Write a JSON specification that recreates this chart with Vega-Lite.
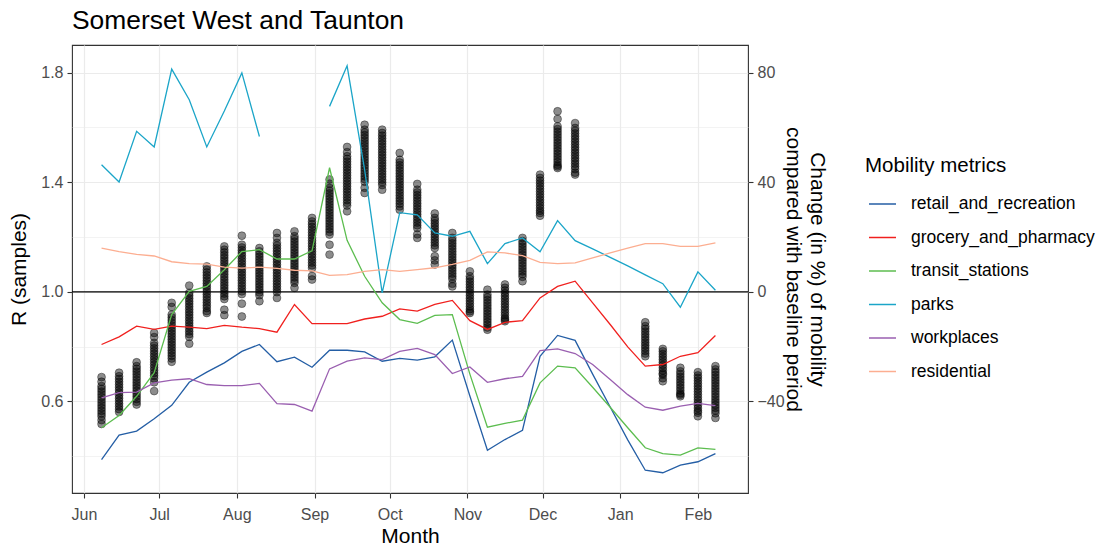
{
  "$schema": "https://vega.github.io/schema/vega-lite/v6.json",
  "width": 676,
  "height": 448,
  "autosize": {"type": "none"},
  "padding": {"left": 72, "top": 45, "right": 355, "bottom": 58},
  "background": "white",
  "title": {"text": "Somerset West and Taunton", "anchor": "start", "frame": "group", "fontSize": 26.4, "fontWeight": "normal", "color": "black", "font": "Liberation Sans", "offset": 11},
  "config": {
    "font": "Liberation Sans",
    "view": {"stroke": "#333333", "strokeWidth": 1.1},
    "axis": {"domain": false, "gridColor": "#ebebeb", "labelColor": "#4d4d4d", "labelFontSize": 16, "titleFontSize": 21, "titleFontWeight": "normal", "titleColor": "black", "tickColor": "#333333", "tickSize": 5, "tickWidth": 1.1, "labelPadding": 4}
  },
  "datasets": {
    "r": [
      {"d":"2020-06-08","r":0.689},{"d":"2020-06-08","r":0.672},{"d":"2020-06-08","r":0.656},{"d":"2020-06-08","r":0.646},{"d":"2020-06-08","r":0.636},{"d":"2020-06-08","r":0.626},{"d":"2020-06-08","r":0.616},{"d":"2020-06-08","r":0.606},{"d":"2020-06-08","r":0.596},{"d":"2020-06-08","r":0.586},{"d":"2020-06-08","r":0.576},{"d":"2020-06-08","r":0.566},{"d":"2020-06-08","r":0.556},{"d":"2020-06-08","r":0.546},{"d":"2020-06-08","r":0.532},{"d":"2020-06-08","r":0.518},
      {"d":"2020-06-15","r":0.705},{"d":"2020-06-15","r":0.692},{"d":"2020-06-15","r":0.682},{"d":"2020-06-15","r":0.672},{"d":"2020-06-15","r":0.662},{"d":"2020-06-15","r":0.652},{"d":"2020-06-15","r":0.642},{"d":"2020-06-15","r":0.632},{"d":"2020-06-15","r":0.622},{"d":"2020-06-15","r":0.612},{"d":"2020-06-15","r":0.602},{"d":"2020-06-15","r":0.592},{"d":"2020-06-15","r":0.582},{"d":"2020-06-15","r":0.572},{"d":"2020-06-15","r":0.562},
      {"d":"2020-06-22","r":0.743},{"d":"2020-06-22","r":0.729},{"d":"2020-06-22","r":0.719},{"d":"2020-06-22","r":0.709},{"d":"2020-06-22","r":0.699},{"d":"2020-06-22","r":0.689},{"d":"2020-06-22","r":0.679},{"d":"2020-06-22","r":0.669},{"d":"2020-06-22","r":0.659},{"d":"2020-06-22","r":0.649},{"d":"2020-06-22","r":0.639},{"d":"2020-06-22","r":0.629},{"d":"2020-06-22","r":0.619},{"d":"2020-06-22","r":0.609},{"d":"2020-06-22","r":0.599},{"d":"2020-06-22","r":0.589},
      {"d":"2020-06-29","r":0.850},{"d":"2020-06-29","r":0.835},{"d":"2020-06-29","r":0.814},{"d":"2020-06-29","r":0.804},{"d":"2020-06-29","r":0.794},{"d":"2020-06-29","r":0.784},{"d":"2020-06-29","r":0.774},{"d":"2020-06-29","r":0.764},{"d":"2020-06-29","r":0.754},{"d":"2020-06-29","r":0.744},{"d":"2020-06-29","r":0.734},{"d":"2020-06-29","r":0.724},{"d":"2020-06-29","r":0.714},{"d":"2020-06-29","r":0.704},{"d":"2020-06-29","r":0.694},{"d":"2020-06-29","r":0.684},{"d":"2020-06-29","r":0.670},{"d":"2020-06-29","r":0.638},
      {"d":"2020-07-06","r":0.960},{"d":"2020-07-06","r":0.945},{"d":"2020-07-06","r":0.917},{"d":"2020-07-06","r":0.907},{"d":"2020-07-06","r":0.897},{"d":"2020-07-06","r":0.887},{"d":"2020-07-06","r":0.877},{"d":"2020-07-06","r":0.867},{"d":"2020-07-06","r":0.857},{"d":"2020-07-06","r":0.847},{"d":"2020-07-06","r":0.837},{"d":"2020-07-06","r":0.827},{"d":"2020-07-06","r":0.817},{"d":"2020-07-06","r":0.807},{"d":"2020-07-06","r":0.797},{"d":"2020-07-06","r":0.787},{"d":"2020-07-06","r":0.777},{"d":"2020-07-06","r":0.767},{"d":"2020-07-06","r":0.757},{"d":"2020-07-06","r":0.745},
      {"d":"2020-07-13","r":1.023},{"d":"2020-07-13","r":0.996},{"d":"2020-07-13","r":0.986},{"d":"2020-07-13","r":0.976},{"d":"2020-07-13","r":0.966},{"d":"2020-07-13","r":0.956},{"d":"2020-07-13","r":0.946},{"d":"2020-07-13","r":0.936},{"d":"2020-07-13","r":0.926},{"d":"2020-07-13","r":0.916},{"d":"2020-07-13","r":0.906},{"d":"2020-07-13","r":0.896},{"d":"2020-07-13","r":0.886},{"d":"2020-07-13","r":0.876},{"d":"2020-07-13","r":0.866},{"d":"2020-07-13","r":0.856},{"d":"2020-07-13","r":0.846},{"d":"2020-07-13","r":0.836},{"d":"2020-07-13","r":0.811},
      {"d":"2020-07-20","r":1.093},{"d":"2020-07-20","r":1.081},{"d":"2020-07-20","r":1.071},{"d":"2020-07-20","r":1.061},{"d":"2020-07-20","r":1.051},{"d":"2020-07-20","r":1.041},{"d":"2020-07-20","r":1.031},{"d":"2020-07-20","r":1.021},{"d":"2020-07-20","r":1.011},{"d":"2020-07-20","r":1.001},{"d":"2020-07-20","r":0.991},{"d":"2020-07-20","r":0.981},{"d":"2020-07-20","r":0.971},{"d":"2020-07-20","r":0.961},{"d":"2020-07-20","r":0.951},{"d":"2020-07-20","r":0.941},{"d":"2020-07-20","r":0.930},{"d":"2020-07-20","r":0.923},
      {"d":"2020-07-27","r":1.166},{"d":"2020-07-27","r":1.154},{"d":"2020-07-27","r":1.144},{"d":"2020-07-27","r":1.134},{"d":"2020-07-27","r":1.124},{"d":"2020-07-27","r":1.114},{"d":"2020-07-27","r":1.104},{"d":"2020-07-27","r":1.094},{"d":"2020-07-27","r":1.084},{"d":"2020-07-27","r":1.074},{"d":"2020-07-27","r":1.064},{"d":"2020-07-27","r":1.054},{"d":"2020-07-27","r":1.044},{"d":"2020-07-27","r":1.034},{"d":"2020-07-27","r":1.024},{"d":"2020-07-27","r":1.014},{"d":"2020-07-27","r":1.004},{"d":"2020-07-27","r":0.994},{"d":"2020-07-27","r":0.984},{"d":"2020-07-27","r":0.974},{"d":"2020-07-27","r":0.935},{"d":"2020-07-27","r":0.915},
      {"d":"2020-08-03","r":1.205},{"d":"2020-08-03","r":1.172},{"d":"2020-08-03","r":1.162},{"d":"2020-08-03","r":1.152},{"d":"2020-08-03","r":1.142},{"d":"2020-08-03","r":1.132},{"d":"2020-08-03","r":1.122},{"d":"2020-08-03","r":1.112},{"d":"2020-08-03","r":1.102},{"d":"2020-08-03","r":1.092},{"d":"2020-08-03","r":1.082},{"d":"2020-08-03","r":1.072},{"d":"2020-08-03","r":1.062},{"d":"2020-08-03","r":1.052},{"d":"2020-08-03","r":1.042},{"d":"2020-08-03","r":1.032},{"d":"2020-08-03","r":1.022},{"d":"2020-08-03","r":1.012},{"d":"2020-08-03","r":1.002},{"d":"2020-08-03","r":0.992},{"d":"2020-08-03","r":0.957},{"d":"2020-08-03","r":0.910},
      {"d":"2020-08-10","r":1.160},{"d":"2020-08-10","r":1.148},{"d":"2020-08-10","r":1.138},{"d":"2020-08-10","r":1.128},{"d":"2020-08-10","r":1.118},{"d":"2020-08-10","r":1.108},{"d":"2020-08-10","r":1.098},{"d":"2020-08-10","r":1.088},{"d":"2020-08-10","r":1.078},{"d":"2020-08-10","r":1.068},{"d":"2020-08-10","r":1.058},{"d":"2020-08-10","r":1.048},{"d":"2020-08-10","r":1.038},{"d":"2020-08-10","r":1.028},{"d":"2020-08-10","r":1.018},{"d":"2020-08-10","r":1.008},{"d":"2020-08-10","r":0.998},{"d":"2020-08-10","r":0.988},{"d":"2020-08-10","r":0.966},
      {"d":"2020-08-17","r":1.215},{"d":"2020-08-17","r":1.197},{"d":"2020-08-17","r":1.179},{"d":"2020-08-17","r":1.169},{"d":"2020-08-17","r":1.159},{"d":"2020-08-17","r":1.149},{"d":"2020-08-17","r":1.139},{"d":"2020-08-17","r":1.129},{"d":"2020-08-17","r":1.119},{"d":"2020-08-17","r":1.109},{"d":"2020-08-17","r":1.099},{"d":"2020-08-17","r":1.089},{"d":"2020-08-17","r":1.079},{"d":"2020-08-17","r":1.069},{"d":"2020-08-17","r":1.059},{"d":"2020-08-17","r":1.049},{"d":"2020-08-17","r":1.039},{"d":"2020-08-17","r":1.029},{"d":"2020-08-17","r":1.019},{"d":"2020-08-17","r":1.009},{"d":"2020-08-17","r":0.999},{"d":"2020-08-17","r":0.978},
      {"d":"2020-08-24","r":1.221},{"d":"2020-08-24","r":1.203},{"d":"2020-08-24","r":1.193},{"d":"2020-08-24","r":1.183},{"d":"2020-08-24","r":1.173},{"d":"2020-08-24","r":1.163},{"d":"2020-08-24","r":1.153},{"d":"2020-08-24","r":1.143},{"d":"2020-08-24","r":1.133},{"d":"2020-08-24","r":1.123},{"d":"2020-08-24","r":1.113},{"d":"2020-08-24","r":1.103},{"d":"2020-08-24","r":1.093},{"d":"2020-08-24","r":1.083},{"d":"2020-08-24","r":1.073},{"d":"2020-08-24","r":1.063},{"d":"2020-08-24","r":1.053},{"d":"2020-08-24","r":1.043},{"d":"2020-08-24","r":1.033},{"d":"2020-08-24","r":1.015},
      {"d":"2020-08-31","r":1.270},{"d":"2020-08-31","r":1.257},{"d":"2020-08-31","r":1.247},{"d":"2020-08-31","r":1.237},{"d":"2020-08-31","r":1.227},{"d":"2020-08-31","r":1.217},{"d":"2020-08-31","r":1.207},{"d":"2020-08-31","r":1.197},{"d":"2020-08-31","r":1.187},{"d":"2020-08-31","r":1.177},{"d":"2020-08-31","r":1.167},{"d":"2020-08-31","r":1.157},{"d":"2020-08-31","r":1.147},{"d":"2020-08-31","r":1.137},{"d":"2020-08-31","r":1.127},{"d":"2020-08-31","r":1.117},{"d":"2020-08-31","r":1.107},{"d":"2020-08-31","r":1.097},{"d":"2020-08-31","r":1.087},{"d":"2020-08-31","r":1.058},{"d":"2020-08-31","r":1.045},
      {"d":"2020-09-07","r":1.410},{"d":"2020-09-07","r":1.395},{"d":"2020-09-07","r":1.379},{"d":"2020-09-07","r":1.369},{"d":"2020-09-07","r":1.359},{"d":"2020-09-07","r":1.349},{"d":"2020-09-07","r":1.339},{"d":"2020-09-07","r":1.329},{"d":"2020-09-07","r":1.319},{"d":"2020-09-07","r":1.309},{"d":"2020-09-07","r":1.299},{"d":"2020-09-07","r":1.289},{"d":"2020-09-07","r":1.279},{"d":"2020-09-07","r":1.269},{"d":"2020-09-07","r":1.259},{"d":"2020-09-07","r":1.249},{"d":"2020-09-07","r":1.239},{"d":"2020-09-07","r":1.229},{"d":"2020-09-07","r":1.219},{"d":"2020-09-07","r":1.209},{"d":"2020-09-07","r":1.172},{"d":"2020-09-07","r":1.136},
      {"d":"2020-09-14","r":1.529},{"d":"2020-09-14","r":1.510},{"d":"2020-09-14","r":1.495},{"d":"2020-09-14","r":1.485},{"d":"2020-09-14","r":1.475},{"d":"2020-09-14","r":1.465},{"d":"2020-09-14","r":1.455},{"d":"2020-09-14","r":1.445},{"d":"2020-09-14","r":1.435},{"d":"2020-09-14","r":1.425},{"d":"2020-09-14","r":1.415},{"d":"2020-09-14","r":1.405},{"d":"2020-09-14","r":1.395},{"d":"2020-09-14","r":1.385},{"d":"2020-09-14","r":1.375},{"d":"2020-09-14","r":1.365},{"d":"2020-09-14","r":1.355},{"d":"2020-09-14","r":1.345},{"d":"2020-09-14","r":1.335},{"d":"2020-09-14","r":1.325},{"d":"2020-09-14","r":1.315},{"d":"2020-09-14","r":1.294},
      {"d":"2020-09-21","r":1.610},{"d":"2020-09-21","r":1.592},{"d":"2020-09-21","r":1.582},{"d":"2020-09-21","r":1.572},{"d":"2020-09-21","r":1.562},{"d":"2020-09-21","r":1.552},{"d":"2020-09-21","r":1.542},{"d":"2020-09-21","r":1.532},{"d":"2020-09-21","r":1.522},{"d":"2020-09-21","r":1.512},{"d":"2020-09-21","r":1.502},{"d":"2020-09-21","r":1.492},{"d":"2020-09-21","r":1.482},{"d":"2020-09-21","r":1.472},{"d":"2020-09-21","r":1.462},{"d":"2020-09-21","r":1.452},{"d":"2020-09-21","r":1.442},{"d":"2020-09-21","r":1.432},{"d":"2020-09-21","r":1.422},{"d":"2020-09-21","r":1.412},{"d":"2020-09-21","r":1.402},{"d":"2020-09-21","r":1.380},{"d":"2020-09-21","r":1.361},
      {"d":"2020-09-28","r":1.592},{"d":"2020-09-28","r":1.580},{"d":"2020-09-28","r":1.570},{"d":"2020-09-28","r":1.560},{"d":"2020-09-28","r":1.550},{"d":"2020-09-28","r":1.540},{"d":"2020-09-28","r":1.530},{"d":"2020-09-28","r":1.520},{"d":"2020-09-28","r":1.510},{"d":"2020-09-28","r":1.500},{"d":"2020-09-28","r":1.490},{"d":"2020-09-28","r":1.480},{"d":"2020-09-28","r":1.470},{"d":"2020-09-28","r":1.460},{"d":"2020-09-28","r":1.450},{"d":"2020-09-28","r":1.440},{"d":"2020-09-28","r":1.430},{"d":"2020-09-28","r":1.420},{"d":"2020-09-28","r":1.410},{"d":"2020-09-28","r":1.400},{"d":"2020-09-28","r":1.390},{"d":"2020-09-28","r":1.373},
      {"d":"2020-10-05","r":1.507},{"d":"2020-10-05","r":1.482},{"d":"2020-10-05","r":1.472},{"d":"2020-10-05","r":1.462},{"d":"2020-10-05","r":1.452},{"d":"2020-10-05","r":1.442},{"d":"2020-10-05","r":1.432},{"d":"2020-10-05","r":1.422},{"d":"2020-10-05","r":1.412},{"d":"2020-10-05","r":1.402},{"d":"2020-10-05","r":1.392},{"d":"2020-10-05","r":1.382},{"d":"2020-10-05","r":1.372},{"d":"2020-10-05","r":1.362},{"d":"2020-10-05","r":1.352},{"d":"2020-10-05","r":1.342},{"d":"2020-10-05","r":1.332},{"d":"2020-10-05","r":1.322},{"d":"2020-10-05","r":1.312},{"d":"2020-10-05","r":1.300},
      {"d":"2020-10-12","r":1.394},{"d":"2020-10-12","r":1.373},{"d":"2020-10-12","r":1.363},{"d":"2020-10-12","r":1.353},{"d":"2020-10-12","r":1.343},{"d":"2020-10-12","r":1.333},{"d":"2020-10-12","r":1.323},{"d":"2020-10-12","r":1.313},{"d":"2020-10-12","r":1.303},{"d":"2020-10-12","r":1.293},{"d":"2020-10-12","r":1.283},{"d":"2020-10-12","r":1.273},{"d":"2020-10-12","r":1.263},{"d":"2020-10-12","r":1.253},{"d":"2020-10-12","r":1.243},{"d":"2020-10-12","r":1.233},{"d":"2020-10-12","r":1.210},{"d":"2020-10-12","r":1.197},
      {"d":"2020-10-19","r":1.286},{"d":"2020-10-19","r":1.270},{"d":"2020-10-19","r":1.260},{"d":"2020-10-19","r":1.250},{"d":"2020-10-19","r":1.240},{"d":"2020-10-19","r":1.230},{"d":"2020-10-19","r":1.220},{"d":"2020-10-19","r":1.210},{"d":"2020-10-19","r":1.200},{"d":"2020-10-19","r":1.190},{"d":"2020-10-19","r":1.180},{"d":"2020-10-19","r":1.170},{"d":"2020-10-19","r":1.160},{"d":"2020-10-19","r":1.130},{"d":"2020-10-19","r":1.115},{"d":"2020-10-19","r":1.100},
      {"d":"2020-10-26","r":1.215},{"d":"2020-10-26","r":1.197},{"d":"2020-10-26","r":1.187},{"d":"2020-10-26","r":1.177},{"d":"2020-10-26","r":1.167},{"d":"2020-10-26","r":1.157},{"d":"2020-10-26","r":1.147},{"d":"2020-10-26","r":1.137},{"d":"2020-10-26","r":1.127},{"d":"2020-10-26","r":1.117},{"d":"2020-10-26","r":1.107},{"d":"2020-10-26","r":1.097},{"d":"2020-10-26","r":1.087},{"d":"2020-10-26","r":1.077},{"d":"2020-10-26","r":1.067},{"d":"2020-10-26","r":1.057},{"d":"2020-10-26","r":1.047},{"d":"2020-10-26","r":1.030},{"d":"2020-10-26","r":1.020},
      {"d":"2020-11-02","r":1.075},{"d":"2020-11-02","r":1.057},{"d":"2020-11-02","r":1.047},{"d":"2020-11-02","r":1.037},{"d":"2020-11-02","r":1.027},{"d":"2020-11-02","r":1.017},{"d":"2020-11-02","r":1.007},{"d":"2020-11-02","r":0.997},{"d":"2020-11-02","r":0.987},{"d":"2020-11-02","r":0.977},{"d":"2020-11-02","r":0.967},{"d":"2020-11-02","r":0.957},{"d":"2020-11-02","r":0.947},{"d":"2020-11-02","r":0.937},{"d":"2020-11-02","r":0.929},{"d":"2020-11-02","r":0.923},
      {"d":"2020-11-09","r":1.008},{"d":"2020-11-09","r":0.990},{"d":"2020-11-09","r":0.980},{"d":"2020-11-09","r":0.970},{"d":"2020-11-09","r":0.960},{"d":"2020-11-09","r":0.950},{"d":"2020-11-09","r":0.940},{"d":"2020-11-09","r":0.930},{"d":"2020-11-09","r":0.920},{"d":"2020-11-09","r":0.910},{"d":"2020-11-09","r":0.900},{"d":"2020-11-09","r":0.890},{"d":"2020-11-09","r":0.880},{"d":"2020-11-09","r":0.870},{"d":"2020-11-09","r":0.862},
      {"d":"2020-11-16","r":1.027},{"d":"2020-11-16","r":1.015},{"d":"2020-11-16","r":1.005},{"d":"2020-11-16","r":0.995},{"d":"2020-11-16","r":0.985},{"d":"2020-11-16","r":0.975},{"d":"2020-11-16","r":0.965},{"d":"2020-11-16","r":0.955},{"d":"2020-11-16","r":0.945},{"d":"2020-11-16","r":0.935},{"d":"2020-11-16","r":0.925},{"d":"2020-11-16","r":0.915},{"d":"2020-11-16","r":0.905},{"d":"2020-11-16","r":0.899},{"d":"2020-11-16","r":0.893},
      {"d":"2020-11-23","r":1.197},{"d":"2020-11-23","r":1.185},{"d":"2020-11-23","r":1.175},{"d":"2020-11-23","r":1.165},{"d":"2020-11-23","r":1.155},{"d":"2020-11-23","r":1.145},{"d":"2020-11-23","r":1.135},{"d":"2020-11-23","r":1.125},{"d":"2020-11-23","r":1.115},{"d":"2020-11-23","r":1.105},{"d":"2020-11-23","r":1.095},{"d":"2020-11-23","r":1.085},{"d":"2020-11-23","r":1.075},{"d":"2020-11-23","r":1.065},{"d":"2020-11-23","r":1.055},{"d":"2020-11-23","r":1.039},
      {"d":"2020-11-30","r":1.428},{"d":"2020-11-30","r":1.416},{"d":"2020-11-30","r":1.406},{"d":"2020-11-30","r":1.396},{"d":"2020-11-30","r":1.386},{"d":"2020-11-30","r":1.376},{"d":"2020-11-30","r":1.366},{"d":"2020-11-30","r":1.356},{"d":"2020-11-30","r":1.346},{"d":"2020-11-30","r":1.336},{"d":"2020-11-30","r":1.326},{"d":"2020-11-30","r":1.316},{"d":"2020-11-30","r":1.306},{"d":"2020-11-30","r":1.296},{"d":"2020-11-30","r":1.288},{"d":"2020-11-30","r":1.278},
      {"d":"2020-12-07","r":1.659},{"d":"2020-12-07","r":1.631},{"d":"2020-12-07","r":1.604},{"d":"2020-12-07","r":1.594},{"d":"2020-12-07","r":1.584},{"d":"2020-12-07","r":1.574},{"d":"2020-12-07","r":1.564},{"d":"2020-12-07","r":1.554},{"d":"2020-12-07","r":1.544},{"d":"2020-12-07","r":1.534},{"d":"2020-12-07","r":1.524},{"d":"2020-12-07","r":1.514},{"d":"2020-12-07","r":1.504},{"d":"2020-12-07","r":1.494},{"d":"2020-12-07","r":1.484},{"d":"2020-12-07","r":1.474},{"d":"2020-12-07","r":1.464},{"d":"2020-12-07","r":1.458},{"d":"2020-12-07","r":1.452},
      {"d":"2020-12-14","r":1.616},{"d":"2020-12-14","r":1.598},{"d":"2020-12-14","r":1.588},{"d":"2020-12-14","r":1.578},{"d":"2020-12-14","r":1.568},{"d":"2020-12-14","r":1.558},{"d":"2020-12-14","r":1.548},{"d":"2020-12-14","r":1.538},{"d":"2020-12-14","r":1.528},{"d":"2020-12-14","r":1.518},{"d":"2020-12-14","r":1.508},{"d":"2020-12-14","r":1.498},{"d":"2020-12-14","r":1.488},{"d":"2020-12-14","r":1.478},{"d":"2020-12-14","r":1.468},{"d":"2020-12-14","r":1.458},{"d":"2020-12-14","r":1.448},{"d":"2020-12-14","r":1.435},{"d":"2020-12-14","r":1.428},
      {"d":"2021-01-11","r":0.889},{"d":"2021-01-11","r":0.875},{"d":"2021-01-11","r":0.865},{"d":"2021-01-11","r":0.855},{"d":"2021-01-11","r":0.845},{"d":"2021-01-11","r":0.835},{"d":"2021-01-11","r":0.825},{"d":"2021-01-11","r":0.815},{"d":"2021-01-11","r":0.805},{"d":"2021-01-11","r":0.795},{"d":"2021-01-11","r":0.785},{"d":"2021-01-11","r":0.775},{"d":"2021-01-11","r":0.765},
      {"d":"2021-01-18","r":0.792},{"d":"2021-01-18","r":0.783},{"d":"2021-01-18","r":0.773},{"d":"2021-01-18","r":0.763},{"d":"2021-01-18","r":0.753},{"d":"2021-01-18","r":0.743},{"d":"2021-01-18","r":0.733},{"d":"2021-01-18","r":0.723},{"d":"2021-01-18","r":0.713},{"d":"2021-01-18","r":0.703},{"d":"2021-01-18","r":0.698},{"d":"2021-01-18","r":0.685},{"d":"2021-01-18","r":0.674},
      {"d":"2021-01-25","r":0.723},{"d":"2021-01-25","r":0.710},{"d":"2021-01-25","r":0.700},{"d":"2021-01-25","r":0.690},{"d":"2021-01-25","r":0.680},{"d":"2021-01-25","r":0.670},{"d":"2021-01-25","r":0.660},{"d":"2021-01-25","r":0.650},{"d":"2021-01-25","r":0.640},{"d":"2021-01-25","r":0.630},{"d":"2021-01-25","r":0.625},{"d":"2021-01-25","r":0.619},
      {"d":"2021-02-01","r":0.707},{"d":"2021-02-01","r":0.695},{"d":"2021-02-01","r":0.686},{"d":"2021-02-01","r":0.676},{"d":"2021-02-01","r":0.666},{"d":"2021-02-01","r":0.656},{"d":"2021-02-01","r":0.646},{"d":"2021-02-01","r":0.636},{"d":"2021-02-01","r":0.626},{"d":"2021-02-01","r":0.616},{"d":"2021-02-01","r":0.606},{"d":"2021-02-01","r":0.596},{"d":"2021-02-01","r":0.586},{"d":"2021-02-01","r":0.576},{"d":"2021-02-01","r":0.566},{"d":"2021-02-01","r":0.559},{"d":"2021-02-01","r":0.546},
      {"d":"2021-02-08","r":0.729},{"d":"2021-02-08","r":0.717},{"d":"2021-02-08","r":0.707},{"d":"2021-02-08","r":0.697},{"d":"2021-02-08","r":0.687},{"d":"2021-02-08","r":0.677},{"d":"2021-02-08","r":0.667},{"d":"2021-02-08","r":0.657},{"d":"2021-02-08","r":0.647},{"d":"2021-02-08","r":0.637},{"d":"2021-02-08","r":0.627},{"d":"2021-02-08","r":0.617},{"d":"2021-02-08","r":0.607},{"d":"2021-02-08","r":0.597},{"d":"2021-02-08","r":0.587},{"d":"2021-02-08","r":0.577},{"d":"2021-02-08","r":0.567},{"d":"2021-02-08","r":0.557},{"d":"2021-02-08","r":0.540}
    ],
    "mob": [
      {"d":"2020-06-08","retail_and_recreation":-61.2,"grocery_and_pharmacy":-19.2,"transit_stations":-49.6,"parks":46.4,"workplaces":-38.7,"residential":16.0},
      {"d":"2020-06-15","retail_and_recreation":-52.3,"grocery_and_pharmacy":-16.4,"transit_stations":-45.1,"parks":40.1,"workplaces":-36.8,"residential":14.7},
      {"d":"2020-06-22","retail_and_recreation":-50.8,"grocery_and_pharmacy":-12.5,"transit_stations":-38.1,"parks":58.6,"workplaces":-36.6,"residential":13.7},
      {"d":"2020-06-29","retail_and_recreation":-46.3,"grocery_and_pharmacy":-13.7,"transit_stations":-29.5,"parks":52.9,"workplaces":-33.2,"residential":13.1},
      {"d":"2020-07-06","retail_and_recreation":-41.4,"grocery_and_pharmacy":-12.5,"transit_stations":-8.3,"parks":81.3,"workplaces":-32.2,"residential":11.0},
      {"d":"2020-07-13","retail_and_recreation":-33.0,"grocery_and_pharmacy":-12.9,"transit_stations":0.2,"parks":70.1,"workplaces":-31.7,"residential":10.3},
      {"d":"2020-07-20","retail_and_recreation":-29.3,"grocery_and_pharmacy":-13.4,"transit_stations":2.0,"parks":52.9,"workplaces":-33.8,"residential":10.1},
      {"d":"2020-07-27","retail_and_recreation":-25.9,"grocery_and_pharmacy":-12.2,"transit_stations":8.1,"parks":66.0,"workplaces":-34.2,"residential":9.0},
      {"d":"2020-08-03","retail_and_recreation":-21.7,"grocery_and_pharmacy":-12.9,"transit_stations":14.7,"parks":79.9,"workplaces":-34.2,"residential":8.7},
      {"d":"2020-08-10","retail_and_recreation":-19.2,"grocery_and_pharmacy":-13.4,"transit_stations":15.4,"parks":56.7,"workplaces":-33.4,"residential":9.0},
      {"d":"2020-08-17","retail_and_recreation":-25.5,"grocery_and_pharmacy":-14.7,"transit_stations":12.0,"parks":null,"workplaces":-40.8,"residential":8.6},
      {"d":"2020-08-24","retail_and_recreation":-23.8,"grocery_and_pharmacy":-4.6,"transit_stations":12.0,"parks":null,"workplaces":-41.1,"residential":7.9},
      {"d":"2020-08-31","retail_and_recreation":-27.5,"grocery_and_pharmacy":-11.6,"transit_stations":15.0,"parks":null,"workplaces":-43.5,"residential":7.7},
      {"d":"2020-09-07","retail_and_recreation":-21.3,"grocery_and_pharmacy":-11.6,"transit_stations":45.3,"parks":67.7,"workplaces":-28.1,"residential":6.0},
      {"d":"2020-09-14","retail_and_recreation":-21.3,"grocery_and_pharmacy":-11.6,"transit_stations":18.8,"parks":82.5,"workplaces":-25.3,"residential":6.3},
      {"d":"2020-09-21","retail_and_recreation":-21.9,"grocery_and_pharmacy":-9.9,"transit_stations":5.7,"parks":44.5,"workplaces":-24.1,"residential":7.5},
      {"d":"2020-09-28","retail_and_recreation":-25.3,"grocery_and_pharmacy":-8.9,"transit_stations":-4.0,"parks":-0.4,"workplaces":-24.7,"residential":8.1},
      {"d":"2020-10-05","retail_and_recreation":-24.3,"grocery_and_pharmacy":-6.2,"transit_stations":-10.1,"parks":28.9,"workplaces":-21.7,"residential":7.5},
      {"d":"2020-10-12","retail_and_recreation":-24.9,"grocery_and_pharmacy":-7.0,"transit_stations":-11.5,"parks":28.1,"workplaces":-20.6,"residential":8.1},
      {"d":"2020-10-19","retail_and_recreation":-23.7,"grocery_and_pharmacy":-4.6,"transit_stations":-8.6,"parks":21.5,"workplaces":-22.9,"residential":8.8},
      {"d":"2020-10-26","retail_and_recreation":-17.6,"grocery_and_pharmacy":-3.1,"transit_stations":-8.3,"parks":20.3,"workplaces":-29.8,"residential":10.0},
      {"d":"2020-11-02","retail_and_recreation":-38.0,"grocery_and_pharmacy":-10.5,"transit_stations":-30.0,"parks":22.1,"workplaces":-27.4,"residential":11.5},
      {"d":"2020-11-09","retail_and_recreation":-57.8,"grocery_and_pharmacy":-13.7,"transit_stations":-49.4,"parks":10.3,"workplaces":-33.0,"residential":14.6},
      {"d":"2020-11-16","retail_and_recreation":-53.9,"grocery_and_pharmacy":-11.1,"transit_stations":-48.0,"parks":17.6,"workplaces":-31.7,"residential":14.2},
      {"d":"2020-11-23","retail_and_recreation":-50.5,"grocery_and_pharmacy":-10.5,"transit_stations":-46.8,"parks":19.7,"workplaces":-30.8,"residential":13.2},
      {"d":"2020-11-30","retail_and_recreation":-23.5,"grocery_and_pharmacy":-2.2,"transit_stations":-33.2,"parks":14.6,"workplaces":-21.4,"residential":10.8},
      {"d":"2020-12-07","retail_and_recreation":-15.9,"grocery_and_pharmacy":2.0,"transit_stations":-27.1,"parks":26.0,"workplaces":-20.8,"residential":10.3},
      {"d":"2020-12-14","retail_and_recreation":-17.7,"grocery_and_pharmacy":3.9,"transit_stations":-27.7,"parks":18.7,"workplaces":-22.5,"residential":10.6},
      {"d":"2020-12-21","retail_and_recreation":-30.0,"grocery_and_pharmacy":-4.0,"transit_stations":-34.8,"parks":15.7,"workplaces":-26.5,"residential":12.4},
      {"d":"2020-12-28","retail_and_recreation":-42.0,"grocery_and_pharmacy":-11.9,"transit_stations":-42.1,"parks":12.6,"workplaces":-32.0,"residential":14.2},
      {"d":"2021-01-04","retail_and_recreation":-54.0,"grocery_and_pharmacy":-20.1,"transit_stations":-49.6,"parks":9.5,"workplaces":-37.5,"residential":16.0},
      {"d":"2021-01-11","retail_and_recreation":-65.1,"grocery_and_pharmacy":-27.1,"transit_stations":-56.9,"parks":6.2,"workplaces":-42.1,"residential":17.6},
      {"d":"2021-01-18","retail_and_recreation":-66.0,"grocery_and_pharmacy":-26.5,"transit_stations":-59.0,"parks":3.0,"workplaces":-43.2,"residential":17.6},
      {"d":"2021-01-25","retail_and_recreation":-63.2,"grocery_and_pharmacy":-23.5,"transit_stations":-59.6,"parks":-5.6,"workplaces":-41.7,"residential":16.6},
      {"d":"2021-02-01","retail_and_recreation":-62.0,"grocery_and_pharmacy":-22.2,"transit_stations":-56.9,"parks":7.3,"workplaces":-40.7,"residential":16.6},
      {"d":"2021-02-08","retail_and_recreation":-59.0,"grocery_and_pharmacy":-15.9,"transit_stations":-57.5,"parks":0.6,"workplaces":-41.5,"residential":17.9}
    ]
  },
  "layer": [
    {
      "layer": [
        {
          "data": {"name": "r"},
          "mark": {"type": "circle", "size": 62, "fill": "black", "fillOpacity": 0.45, "stroke": "black", "strokeWidth": 0.7, "strokeOpacity": 0.55},
          "encoding": {
            "x": {
              "field": "d", "type": "temporal",
              "scale": {"domain": [{"year": 2020, "month": 5, "date": 27, "hours": 5, "utc": true}, {"year": 2021, "month": 2, "date": 21, "utc": true}]},
              "axis": {
                "title": "Month",
                "values": [
                  {"year": 2020, "month": 6, "date": 1, "utc": true}, {"year": 2020, "month": 6, "date": 16, "utc": true},
                  {"year": 2020, "month": 7, "date": 1, "utc": true}, {"year": 2020, "month": 7, "date": 16, "utc": true},
                  {"year": 2020, "month": 8, "date": 1, "utc": true}, {"year": 2020, "month": 8, "date": 16, "utc": true},
                  {"year": 2020, "month": 9, "date": 1, "utc": true}, {"year": 2020, "month": 9, "date": 16, "utc": true},
                  {"year": 2020, "month": 10, "date": 1, "utc": true}, {"year": 2020, "month": 10, "date": 16, "utc": true},
                  {"year": 2020, "month": 11, "date": 1, "utc": true}, {"year": 2020, "month": 11, "date": 16, "utc": true},
                  {"year": 2020, "month": 12, "date": 1, "utc": true}, {"year": 2020, "month": 12, "date": 16, "utc": true},
                  {"year": 2021, "month": 1, "date": 1, "utc": true}, {"year": 2021, "month": 1, "date": 16, "utc": true},
                  {"year": 2021, "month": 2, "date": 1, "utc": true}, {"year": 2021, "month": 2, "date": 15, "utc": true}
                ],
                "labelExpr": "utcdate(datum.value) == 1 ? utcFormat(datum.value, '%b') : ''",
                "tickOpacity": {"condition": {"test": "utcdate(datum.value) == 1", "value": 1}, "value": 0},
                "gridWidth": {"condition": {"test": "utcdate(datum.value) == 1", "value": 1.2}, "value": 0.6},
                "labelFlush": false,
                "labelPadding": 8,
                "titlePadding": 3
              }
            },
            "y": {
              "field": "r", "type": "quantitative",
              "scale": {"domain": [0.266, 1.901], "nice": false, "zero": false},
              "axis": {
                "orient": "left",
                "title": "R (samples)",
                "values": [0.4, 0.6, 0.8, 1.0, 1.2, 1.4, 1.6, 1.8],
                "labelExpr": "round(datum.value * 10) % 4 == 2 ? format(datum.value, '.1f') : ''",
                "tickOpacity": {"condition": {"test": "round(datum.value * 10) % 4 == 2", "value": 1}, "value": 0},
                "gridWidth": {"condition": {"test": "round(datum.value * 10) % 4 == 2", "value": 1.2}, "value": 0.6},
                "titlePadding": 11
              }
            }
          }
        },
        {
          "data": {"values": [{"r": 1.0}]},
          "mark": {"type": "rule", "color": "black", "strokeWidth": 1.3},
          "encoding": {"y": {"field": "r", "type": "quantitative"}}
        }
      ]
    },
    {
      "data": {"name": "mob"},
      "transform": [{"fold": ["retail_and_recreation", "grocery_and_pharmacy", "transit_stations", "parks", "workplaces", "residential"], "as": ["metric", "m"]}],
      "mark": {"type": "line", "strokeWidth": 1.3, "invalid": "break-paths-show-domains"},
      "encoding": {
        "x": {"field": "d", "type": "temporal"},
        "y": {
          "field": "m", "type": "quantitative",
          "scale": {"domain": [-73.4, 90.1], "nice": false, "zero": false},
          "axis": {
            "orient": "right",
            "title": ["Change (in %) of mobility", "compared with baseline period"],
            "values": [-40, 0, 40, 80],
            "grid": false,
            "titlePadding": -2,
            "titleLineHeight": 24
          }
        },
        "color": {
          "field": "metric", "type": "nominal",
          "scale": {
            "domain": ["retail_and_recreation", "grocery_and_pharmacy", "transit_stations", "parks", "workplaces", "residential"],
            "range": ["#245ea5", "#f0201e", "#5cbd4f", "#1ba5c8", "#9a5fb0", "#fcae91"]
          },
          "legend": {
            "title": "Mobility metrics",
            "orient": "none",
            "legendX": 793,
            "legendY": 111,
            "titleFontSize": 20.5,
            "titleFontWeight": "normal",
            "titleColor": "black",
            "titlePadding": 13,
            "labelFontSize": 17.5,
            "labelColor": "black",
            "labelLimit": 0,
            "symbolType": "stroke",
            "symbolSize": 729,
            "symbolStrokeWidth": 1.5,
            "symbolOffset": 3,
            "labelOffset": 14,
            "rowPadding": 10.5
          }
        }
      }
    }
  ],
  "resolve": {"scale": {"y": "independent"}}
}
